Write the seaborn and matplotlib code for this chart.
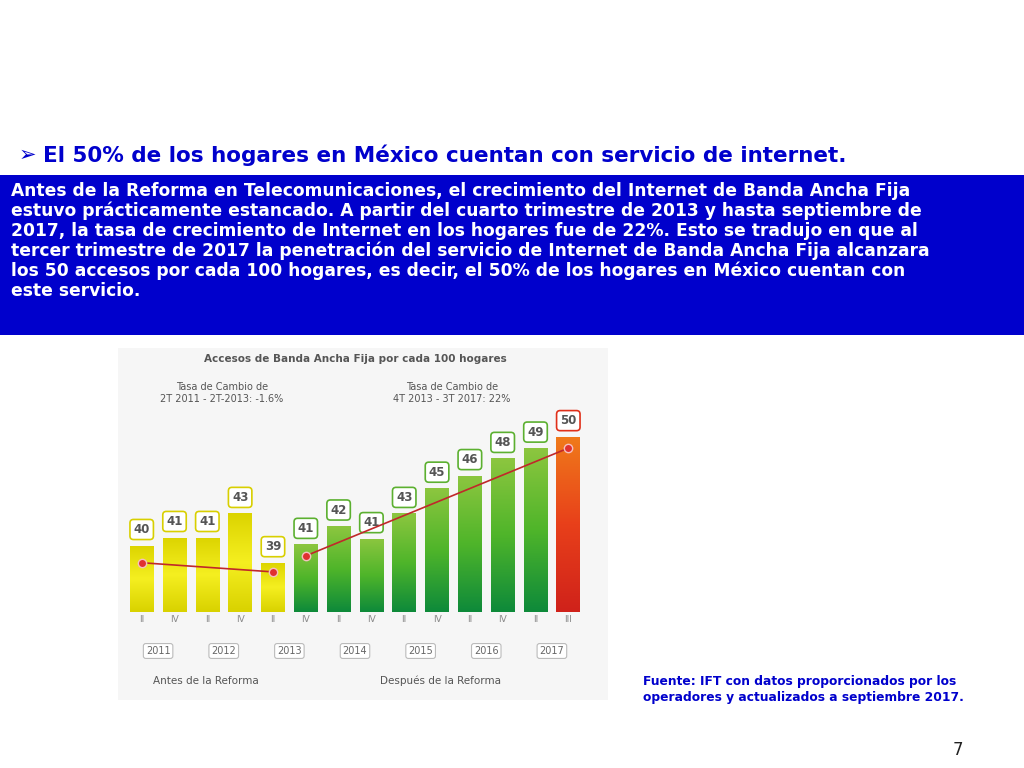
import matplotlib
matplotlib.use("Agg")
import matplotlib.pyplot as plt
import seaborn as sns
import numpy as np
import pandas as pd
from matplotlib.patches import Rectangle
from matplotlib.colors import LinearSegmentedColormap

quarters = ["II", "IV", "II", "IV", "II", "IV", "II", "IV", "II", "IV", "II", "IV", "II", "III"]
values = [40, 41, 41, 43, 39, 41, 42, 41, 43, 45, 46, 48, 49, 50]
bar_heights = [40.8, 41.5, 41.5, 43.6, 39.3, 40.9, 42.5, 41.4, 43.6, 45.8, 46.9, 48.4, 49.3, 50.3]
trend_before = [39.3, 38.5]
trend_after = [39.9, 49.3]
years = ["2011", "2012", "2013", "2014", "2015", "2016", "2017"]
year_spans = [(0, 1), (2, 3), (4, 5), (6, 7), (8, 9), (10, 11), (12, 13)]
period = ["antes"] * 5 + ["despues"] * 8 + ["ultimo"]

fig = plt.figure(figsize=(10.24, 7.68), dpi=100)
fig.patch.set_facecolor("white")

fig.text(0.018, 1 - 155 / 768, "➢", fontsize=15, color="#0000CC", va="center", fontfamily="DejaVu Sans")
fig.text(0.042, 1 - 155 / 768, "El 50% de los hogares en México cuentan con servicio de internet.",
         fontsize=15.5, fontweight="bold", color="#0000CC", va="center", fontfamily="DejaVu Sans")
fig.patches.append(Rectangle((0, 1 - 335 / 768), 1, 160 / 768, transform=fig.transFigure,
                             facecolor="#0000CC", edgecolor="none", zorder=-2))
body = ("Antes de la Reforma en Telecomunicaciones, el crecimiento del Internet de Banda Ancha Fija\n"
        "estuvo prácticamente estancado. A partir del cuarto trimestre de 2013 y hasta septiembre de\n"
        "2017, la tasa de crecimiento de Internet en los hogares fue de 22%. Esto se tradujo en que al\n"
        "tercer trimestre de 2017 la penetración del servicio de Internet de Banda Ancha Fija alcanzara\n"
        "los 50 accesos por cada 100 hogares, es decir, el 50% de los hogares en México cuentan con\n"
        "este servicio.")
fig.text(0.011, 1 - 182 / 768, body, fontsize=12.3, fontweight="bold", color="white", va="top",
         linespacing=1.12, fontfamily="DejaVu Sans")

fig.patches.append(Rectangle((118 / 1024, 1 - 700 / 768), 490 / 1024, 352 / 768, transform=fig.transFigure,
                             facecolor="#f6f6f6", edgecolor="none", zorder=-2))

ax = fig.add_axes([122 / 1024, 1 - 612 / 768, 466 / 1024, 212 / 768])
ax.set_zorder(2)
df = pd.DataFrame({"x": range(len(values)), "h": bar_heights, "p": period})
pal = {"antes": "#e6df00", "despues": "#3fa62a", "ultimo": "#e0301a"}
sns.barplot(data=df, x="x", y="h", hue="p", palette=pal, dodge=False, width=0.72, ax=ax, legend=False)
ax.set_ylim(35, 53.5)
ax.set_xlim(-0.6, len(values) - 0.4)
ax.axis("off")

grads = {"antes": ["#d9d200", "#f5ef20", "#dcd400"], "despues": ["#0e8a3a", "#4fb52a", "#8cc63f"],
         "ultimo": ["#d0221a", "#e8401a", "#f07a1a"]}
for i, patch in enumerate(list(ax.patches)):
    h = patch.get_height()
    if h <= 0:
        continue
    x0, w = patch.get_x(), patch.get_width()
    idx = int(round(x0 + w / 2))
    cmap = LinearSegmentedColormap.from_list("g", grads[period[idx]])
    grad = np.linspace(0, 1, 100).reshape(-1, 1)
    im = ax.imshow(grad, extent=[x0, x0 + w, 35, h], origin="lower", aspect="auto", cmap=cmap, zorder=2)
    im.set_clip_path(patch)
ax.set_xlim(-0.6, len(values) - 0.4)
ax.set_ylim(35, 53.5)

for i, (v, h) in enumerate(zip(values, bar_heights)):
    ec = "#d8cf00" if period[i] == "antes" else ("#e0301a" if period[i] == "ultimo" else "#5cb030")
    ax.text(i, h + 1.4, str(v), ha="center", va="center", fontsize=8.5, fontweight="bold", color="#555",
            bbox=dict(boxstyle="round,pad=0.3", fc="white", ec=ec, lw=1.2), zorder=5)

ax.plot([0, 4], trend_before, color="#c0282a", lw=1.2, marker="o", ms=6, mfc="#e03030", mec="#f5c0c0", zorder=6)
ax.plot([5, 13], trend_after, color="#c0282a", lw=1.2, marker="o", ms=6, mfc="#e03030", mec="#f5c0c0", zorder=6)

def xf(i):
    return fig.transFigure.inverted().transform(ax.transData.transform((i, 40)))[0]

for i, q in enumerate(quarters):
    fig.text(xf(i), 1 - 620 / 768, q, ha="center", va="center", fontsize=6.5, color="#888")
for y, (a, b) in zip(years, year_spans):
    fig.text((xf(a) + xf(b)) / 2, 1 - 651 / 768, y, ha="center", va="center", fontsize=7, color="#666",
             bbox=dict(boxstyle="round,pad=0.25", fc="white", ec="#bbb", lw=0.8))

fig.text(355 / 1024, 1 - 359 / 768, "Accesos de Banda Ancha Fija por cada 100 hogares", ha="center",
         va="center", fontsize=7.5, color="#555", fontweight="bold")
fig.text(222 / 1024, 1 - 393 / 768, "Tasa de Cambio de\n2T 2011 - 2T-2013: -1.6%", ha="center",
         va="center", fontsize=7, color="#555")
fig.text(452 / 1024, 1 - 393 / 768, "Tasa de Cambio de\n4T 2013 - 3T 2017: 22%", ha="center",
         va="center", fontsize=7, color="#555")
fig.text(206 / 1024, 1 - 681 / 768, "Antes de la Reforma", ha="center", va="center", fontsize=7.5, color="#555")
fig.text(440 / 1024, 1 - 681 / 768, "Después de la Reforma", ha="center", va="center", fontsize=7.5, color="#555")

fig.text(643 / 1024, 1 - 689 / 768, "Fuente: IFT con datos proporcionados por los\noperadores y actualizados a septiembre 2017.",
         ha="left", va="center", fontsize=8.8, fontweight="bold", color="#0000CC", linespacing=1.3)
fig.text(958 / 1024, 1 - 750 / 768, "7", ha="center", va="center", fontsize=12, color="#222")

fig.savefig("out.png", dpi=100)
